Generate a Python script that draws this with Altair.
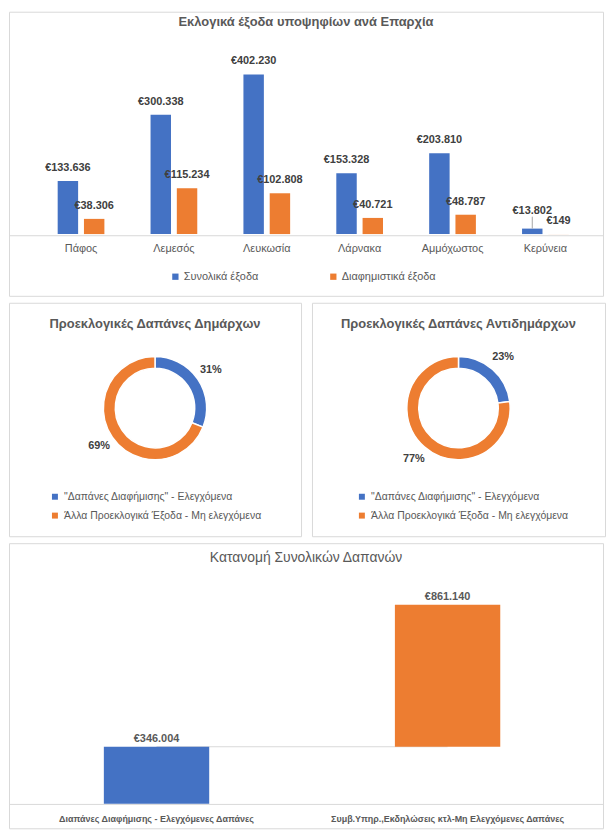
import altair as alt
import pandas as pd

FONT = "Liberation Sans"
BLUE = "#4472C4"
ORANGE = "#ED7D31"
GREY_TXT = "#595959"
DARK_TXT = "#404040"
BORDER = "#d9d9d9"

# ---------------- data ----------------
cities = ["Πάφος", "Λεμεσός", "Λευκωσία", "Λάρνακα", "Αμμόχωστος", "Κερύνεια"]
series_names = ["Συνολικά έξοδα", "Διαφημιστικά έξοδα"]
total_costs = [133636, 300338, 402230, 153328, 203810, 13802]
adv_costs = [38306, 115234, 102808, 40721, 48787, 149]

donut_cats = ['"Δαπάνες Διαφήμισης" - Ελεγχόμενα', "Άλλα Προεκλογικά Έξοδα - Μη ελεγχόμενα"]
mayors_pct = [31, 69]
deputies_pct = [23, 77]

wf_cats = ["Διαπάνες Διαφήμισης - Ελεγχόμενες Δαπάνες",
           "Συμβ.Υπηρ.,Εκδηλώσεις κτλ-Μη Ελεγχόμενες Δαπάνες"]
wf_values = [346004, 861140]


def euro(v):
    return "€" + f"{v:,}".replace(",", ".")


# ---------------- top grouped bars ----------------
df_top = pd.DataFrame({
    "city": cities * 2,
    "series": [series_names[0]] * len(cities) + [series_names[1]] * len(cities),
    "value": total_costs + adv_costs,
})
df_top["label"] = [euro(v) for v in df_top["value"]]

TOP_W, TOP_H = 598, 286

x_top = alt.X("city:N", sort=cities, title=None,
              scale=alt.Scale(paddingInner=0.497, paddingOuter=0.4465, align=0.587),
              axis=alt.Axis(offset=-61, labelAngle=0, ticks=False, tickSize=0,
                            domainColor=BORDER, labelColor=GREY_TXT, labelFontSize=11,
                            labelPadding=7, labelFont=FONT, grid=False))
xo_top = alt.XOffset("series:N", sort=series_names,
                     scale=alt.Scale(paddingInner=0.222, paddingOuter=0))
y_top = alt.Y("value:Q", axis=None,
              scale=alt.Scale(domain=[-155490, 560000], nice=False, zero=True))

top_base = alt.Chart(df_top).encode(x=x_top, xOffset=xo_top, y=y_top)

top_bars = top_base.mark_bar().encode(
    color=alt.Color("series:N", sort=series_names,
                    scale=alt.Scale(domain=series_names, range=[BLUE, ORANGE]),
                    legend=alt.Legend(title=None, orient="none", direction="horizontal",
                                      legendX=162, legendY=261, columnPadding=69,
                                      symbolType="square", symbolSize=40, symbolStrokeWidth=0,
                                      labelFontSize=11, labelColor=GREY_TXT, labelFont=FONT,
                                      labelOffset=3, padding=0))
)

special = (alt.datum.city == "Κερύνεια") & (alt.datum.series == series_names[0])

top_labels = top_base.mark_text(dy=-10, baseline="alphabetic", fontSize=11, fontWeight="bold",
                                color=DARK_TXT, font=FONT).encode(
    text="label:N").transform_filter(~special)

top_labels_sp = top_base.mark_text(dy=-15, baseline="alphabetic", fontSize=11, fontWeight="bold",
                                   color=DARK_TXT, font=FONT).encode(
    text="label:N").transform_filter(special)

top_leader = top_base.mark_rule(color="#a6a6a6", strokeWidth=1, y2Offset=-12).encode(
    y2=alt.Y2("value:Q")).transform_filter(special)

top_chart = alt.layer(top_bars, top_leader, top_labels, top_labels_sp).properties(
    width=TOP_W, height=TOP_H,
    title=alt.Title("Εκλογικά έξοδα υποψηφίων ανά Επαρχία", fontSize=13, fontWeight="bold",
                    color=GREY_TXT, font=FONT, anchor="middle", frame="group", offset=-17),
)


# ---------------- donuts ----------------
def donut(pcts, title, width, legend_x):
    df = pd.DataFrame({"cat": donut_cats, "pct": pcts, "ord": [0, 1]})
    df["label"] = [f"{p}%" for p in pcts]
    base = alt.Chart(df).encode(
        theta=alt.Theta("pct:Q", stack=True),
        order=alt.Order("ord:Q"),
    )
    arcs = base.mark_arc(innerRadius=40, outerRadius=52, stroke="white", strokeWidth=1.5).encode(
        color=alt.Color("cat:N", sort=donut_cats,
                        scale=alt.Scale(domain=donut_cats, range=[BLUE, ORANGE]),
                        legend=alt.Legend(title=None, orient="none", direction="vertical",
                                          legendX=legend_x, legendY=190, rowPadding=8,
                                          symbolType="square", symbolSize=36, symbolStrokeWidth=0,
                                          labelFontSize=10.5, labelColor=GREY_TXT, labelFont=FONT,
                                          labelOffset=4, padding=0, labelLimit=300)),
        y=alt.value(106),
    )
    texts = base.mark_text(radius=68, fontSize=11, fontWeight="bold", color=DARK_TXT,
                           font=FONT).encode(text="label:N", y=alt.value(106))
    return alt.layer(arcs, texts).properties(
        width=width, height=235,
        title=alt.Title(title, fontSize=13, fontWeight="bold", color=GREY_TXT, font=FONT,
                        anchor="middle", frame="group", offset=-28),
    )


d1 = donut(mayors_pct, "Προεκλογικές Δαπάνες Δημάρχων", 294, 41)
d2 = donut(deputies_pct, "Προεκλογικές Δαπάνες Αντιδημάρχων", 295, 45)
donuts = alt.hconcat(d1, d2, spacing=9).resolve_scale(
    color="independent", theta="independent").resolve_legend(color="independent")

# ---------------- bottom waterfall ----------------
df_wf = pd.DataFrame({"cat": wf_cats, "value": wf_values})
df_wf["end"] = df_wf["value"].cumsum()
df_wf["start"] = df_wf["end"] - df_wf["value"]
df_wf["next"] = df_wf["cat"].shift(-1)
df_wf["label"] = [euro(v) for v in df_wf["value"]]

BOT_W, BOT_H = 598, 287
x_bot = alt.X("cat:N", sort=wf_cats, title=None,
              scale=alt.Scale(paddingInner=0.638, paddingOuter=0.3395, align=0.48),
              axis=alt.Axis(offset=-24.5, labelAngle=0, ticks=False, tickSize=0,
                            domainColor=BORDER, labelColor=GREY_TXT, labelFontSize=9,
                            labelFontWeight="bold", labelPadding=11, labelFont=FONT,
                            labelLimit=400, grid=False))
y_bot_scale = alt.Scale(domain=[-148100, 1579800], nice=False, zero=True)

wf_base = alt.Chart(df_wf)
wf_conn = wf_base.mark_rule(color=BORDER, strokeWidth=1).encode(
    x=x_bot, x2=alt.X2("next"), y=alt.Y("end:Q", scale=y_bot_scale, axis=None)
).transform_filter("isValid(datum.next) && datum.next != null")
wf_bars = wf_base.mark_bar().encode(
    x=x_bot,
    y=alt.Y("end:Q", scale=y_bot_scale, axis=None),
    y2=alt.Y2("start:Q"),
    color=alt.Color("cat:N", sort=wf_cats, scale=alt.Scale(domain=wf_cats, range=[BLUE, ORANGE]),
                    legend=None),
)
wf_text = wf_base.mark_text(dy=-3, baseline="bottom", fontSize=11, fontWeight="bold",
                            color=GREY_TXT, font=FONT).encode(
    x=x_bot, y=alt.Y("end:Q", scale=y_bot_scale, axis=None), text="label:N")

bottom_chart = alt.layer(wf_conn, wf_bars, wf_text).properties(
    width=BOT_W, height=BOT_H,
    title=alt.Title("Κατανομή Συνολικών Δαπανών", fontSize=14, fontWeight="normal",
                    color=GREY_TXT, font=FONT, anchor="middle", frame="group", offset=-22),
)

chart = alt.vconcat(top_chart, donuts, bottom_chart, spacing=5).resolve_scale(
    color="independent", x="independent", y="independent"
).resolve_legend(color="independent").properties(
    padding=0, background="white"
).configure_view(stroke=BORDER, strokeWidth=1)

chart.save("out.html", embed_options={"renderer": "svg", "actions": False})
